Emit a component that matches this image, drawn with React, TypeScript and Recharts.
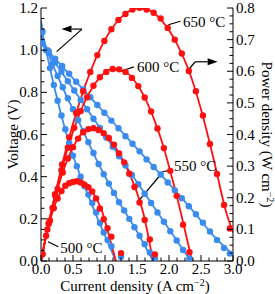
import React from 'react';
import { ComposedChart, Line, Scatter, XAxis, YAxis, ReferenceLine, ReferenceDot } from 'recharts';

// ---- measured points (current density j, voltage V, power density P) ----
const j500 = [0.02, 0.08, 0.14, 0.2, 0.26, 0.32, 0.38, 0.44, 0.5, 0.56, 0.62, 0.68, 0.74, 0.8, 0.86, 0.92, 0.98, 1.04, 1.1, 1.25];
const v500 = [1.09, 1.0, 0.915, 0.835, 0.76, 0.69, 0.625, 0.56, 0.5, 0.45, 0.4, 0.355, 0.315, 0.275, 0.23, 0.18, 0.135, 0.1, 0.07, 0.02];
const p500 = [0.022, 0.08, 0.128, 0.167, 0.198, 0.221, 0.238, 0.246, 0.25, 0.252, 0.248, 0.241, 0.233, 0.22, 0.198, 0.166, 0.132, 0.104, 0.077, 0.025];

const j550 = [0.02, 0.1, 0.18, 0.26, 0.34, 0.42, 0.5, 0.58, 0.66, 0.74, 0.82, 0.9, 0.98, 1.06, 1.14, 1.22, 1.3, 1.38, 1.46, 1.54, 1.62, 1.7, 1.78];
const v550 = [1.085, 1.0, 0.935, 0.878, 0.824, 0.772, 0.72, 0.668, 0.616, 0.564, 0.512, 0.46, 0.412, 0.367, 0.323, 0.279, 0.24, 0.2, 0.16, 0.12, 0.08, 0.04, 0.012];
const p550 = [0.022, 0.1, 0.168, 0.228, 0.28, 0.324, 0.36, 0.387, 0.407, 0.417, 0.42, 0.414, 0.404, 0.389, 0.368, 0.34, 0.312, 0.276, 0.234, 0.185, 0.13, 0.068, 0.021];

const j600 = [0.02, 0.12, 0.22, 0.32, 0.42, 0.52, 0.62, 0.72, 0.82, 0.92, 1.02, 1.12, 1.22, 1.32, 1.42, 1.52, 1.62, 1.72, 1.82, 1.92, 2.02, 2.12, 2.22, 2.32];
const v600 = [1.035, 0.987, 0.942, 0.898, 0.853, 0.809, 0.764, 0.72, 0.675, 0.631, 0.586, 0.542, 0.497, 0.453, 0.408, 0.364, 0.319, 0.275, 0.23, 0.186, 0.141, 0.097, 0.052, 0.012];
const p600 = [0.021, 0.118, 0.207, 0.287, 0.358, 0.421, 0.474, 0.518, 0.554, 0.581, 0.598, 0.607, 0.606, 0.598, 0.579, 0.553, 0.517, 0.473, 0.419, 0.357, 0.285, 0.206, 0.115, 0.028];

const j650 = [0.02, 0.12, 0.22, 0.33, 0.44, 0.55, 0.66, 0.77, 0.88, 0.99, 1.1, 1.21, 1.32, 1.43, 1.54, 1.65, 1.76, 1.87, 1.98, 2.09, 2.2, 2.31, 2.42, 2.53, 2.64, 2.75, 2.86, 2.95];
const v650 = [1.03, 0.995, 0.96, 0.925, 0.888, 0.85, 0.814, 0.777, 0.74, 0.703, 0.666, 0.63, 0.592, 0.556, 0.52, 0.482, 0.446, 0.41, 0.372, 0.335, 0.298, 0.26, 0.222, 0.182, 0.14, 0.1, 0.062, 0.035];
const p650 = [0.021, 0.119, 0.211, 0.305, 0.391, 0.468, 0.537, 0.598, 0.651, 0.696, 0.733, 0.762, 0.781, 0.795, 0.801, 0.795, 0.785, 0.767, 0.737, 0.7, 0.656, 0.601, 0.537, 0.46, 0.37, 0.275, 0.177, 0.103];

// ---- fitted curves ----
const fitV500J = [0, 0.02, 0.08, 0.2, 0.35, 0.5, 0.7, 0.9, 1.05, 1.17];
const fitV500 = [1.14, 1.09, 1.0, 0.835, 0.655, 0.5, 0.34, 0.19, 0.085, 0];
const fitV550J = [0, 0.02, 0.1, 0.3, 0.6, 0.9, 1.2, 1.5, 1.75];
const fitV550 = [1.14, 1.085, 1.0, 0.85, 0.655, 0.46, 0.29, 0.14, 0];
const fitV600J = [0, 0.02, 0.12, 0.5, 1.2, 2.34];
const fitV600 = [1.14, 1.035, 0.987, 0.818, 0.507, 0];
const fitV650J = [0, 0.02, 0.12, 0.8, 1.5, 2.4, 2.7, 3.0];
const fitV650 = [1.14, 1.03, 0.995, 0.767, 0.533, 0.228, 0.118, 0.03];

const fitP500J = [0, 0.1, 0.2, 0.35, 0.5, 0.65, 0.8, 0.95, 1.05, 1.17];
const fitP500 = [0, 0.098, 0.167, 0.229, 0.25, 0.25, 0.22, 0.16, 0.09, 0];
const fitP550J = [0, 0.1, 0.3, 0.5, 0.7, 0.85, 1.0, 1.2, 1.4, 1.6, 1.75];
const fitP550 = [0, 0.1, 0.255, 0.36, 0.413, 0.42, 0.4, 0.348, 0.268, 0.15, 0];
const fitP600J = [0, 0.1, 0.3, 0.5, 0.7, 0.9, 1.1, 1.3, 1.5, 1.7, 1.9, 2.1, 2.36];
const fitP600 = [0, 0.1, 0.272, 0.409, 0.51, 0.576, 0.606, 0.6, 0.559, 0.482, 0.37, 0.222, 0];
const fitP650J = [0, 0.1, 0.3, 0.5, 0.7, 0.9, 1.1, 1.3, 1.5, 1.7, 1.9, 2.1, 2.3, 2.5, 2.7, 2.9, 3.0];
const fitP650 = [0, 0.1, 0.28, 0.434, 0.56, 0.66, 0.733, 0.779, 0.799, 0.792, 0.757, 0.696, 0.608, 0.48, 0.32, 0.15, 0.09];

// ---- axis ticks ----
const xTicks = [0, 0.125, 0.25, 0.375, 0.5, 0.625, 0.75, 0.875, 1.0, 1.125, 1.25, 1.375, 1.5, 1.625, 1.75, 1.875, 2.0, 2.125, 2.25, 2.375, 2.5, 2.625, 2.75, 2.875, 3.0];
const leftTicks = [0, 0.05, 0.1, 0.15, 0.2, 0.25, 0.3, 0.35, 0.4, 0.45, 0.5, 0.55, 0.6, 0.65, 0.7, 0.75, 0.8, 0.85, 0.9, 0.95, 1.0, 1.05, 1.1, 1.15, 1.2];
const rightTicks = [0, 0.025, 0.05, 0.075, 0.1, 0.125, 0.15, 0.175, 0.2, 0.225, 0.25, 0.275, 0.3, 0.325, 0.35, 0.375, 0.4, 0.425, 0.45, 0.475, 0.5, 0.525, 0.55, 0.575, 0.6, 0.625, 0.65, 0.675, 0.7, 0.725, 0.75, 0.775, 0.8];

const temps = ['500 °C', '550 °C', '600 °C', '650 °C'];

const zip = (xs: number[], ys: number[], key: string) => xs.map((x, i) => ({ j: x, [key]: ys[i] }));

const measuredV = [zip(j500, v500, 'v'), zip(j550, v550, 'v'), zip(j600, v600, 'v'), zip(j650, v650, 'v')];
const measuredP = [zip(j500, p500, 'p'), zip(j550, p550, 'p'), zip(j600, p600, 'p'), zip(j650, p650, 'p')];
const fitsV = [zip(fitV500J, fitV500, 'v'), zip(fitV550J, fitV550, 'v'), zip(fitV600J, fitV600, 'v'), zip(fitV650J, fitV650, 'v')];
const fitsP = [zip(fitP500J, fitP500, 'p'), zip(fitP550J, fitP550, 'p'), zip(fitP600J, fitP600, 'p'), zip(fitP650J, fitP650, 'p')];

const BLUE = '#3a8bef';
const RED = '#ff1010';
const FONT = '"Liberation Serif", "Times New Roman", serif';
const FS = 15;

const isMajor = (v: number, step: number) => Math.abs(v / step - Math.round(v / step)) < 1e-6;

const BottomTick = (props: any) => {
  const { x, y, payload } = props;
  const major = isMajor(payload.value, 0.5);
  return (
    <g>
      <line x1={x} x2={x} y1={y} y2={y - (major ? 6 : 3.5)} stroke="#000" strokeWidth={1} />
      {major && (
        <text x={x} y={y + 13} textAnchor="middle" fontFamily={FONT} fontSize={FS} fill="#000">
          {payload.value.toFixed(1)}
        </text>
      )}
    </g>
  );
};

const TopTick = (props: any) => {
  const { x, y, payload } = props;
  const major = isMajor(payload.value, 0.5);
  return <line x1={x} x2={x} y1={y} y2={y + (major ? 6 : 3.5)} stroke="#000" strokeWidth={1} />;
};

const LeftTick = (props: any) => {
  const { x, y, payload } = props;
  const major = isMajor(payload.value, 0.2);
  return (
    <g>
      <line x1={x} x2={x + (major ? 6 : 3.5)} y1={y} y2={y} stroke="#000" strokeWidth={1} />
      {major && (
        <text x={x - 3} y={y + 5} textAnchor="end" fontFamily={FONT} fontSize={FS} fill="#000">
          {payload.value.toFixed(1)}
        </text>
      )}
    </g>
  );
};

const RightTick = (props: any) => {
  const { x, y, payload } = props;
  const major = isMajor(payload.value, 0.1);
  return (
    <g>
      <line x1={x} x2={x - (major ? 6 : 3.5)} y1={y} y2={y} stroke="#000" strokeWidth={1} />
      {major && (
        <text x={x + 3} y={y + 5} textAnchor="start" fontFamily={FONT} fontSize={FS} fill="#000">
          {payload.value.toFixed(1)}
        </text>
      )}
    </g>
  );
};

const Sup = ({ children }: any) => (
  <>
    <tspan dy={-5} fontSize={10}>{children}</tspan>
    <tspan dy={5}>)</tspan>
  </>
);

const XTitle = (props: any) => {
  const vb = props.viewBox || { x: 41, y: 261, width: 192, height: 33 };
  return (
    <text x={vb.x + vb.width / 2 - 2} y={vb.y + 30} textAnchor="middle" fontFamily={FONT} fontSize={FS} fill="#000">
      Current density (A cm<Sup>−2</Sup>
    </text>
  );
};

const LeftTitle = (props: any) => {
  const vb = props.viewBox || { x: 0, y: 8, width: 41, height: 253 };
  const cx = vb.x + 18;
  const cy = vb.y + vb.height / 2;
  return (
    <text x={cx} y={cy} transform={`rotate(-90 ${cx} ${cy})`} textAnchor="middle" fontFamily={FONT} fontSize={FS} fill="#000">
      Voltage (V)
    </text>
  );
};

const RightTitle = (props: any) => {
  const vb = props.viewBox || { x: 233, y: 8, width: 42, height: 253 };
  const cx = vb.x + 29;
  const cy = vb.y + vb.height / 2;
  return (
    <text x={cx} y={cy} transform={`rotate(90 ${cx} ${cy})`} textAnchor="middle" fontFamily={FONT} fontSize={FS} fill="#000">
      Power density (W cm<Sup>−2</Sup>
    </text>
  );
};

const Arrow = (props: any) => {
  const { x1, y1, x2, y2 } = props;
  const dx = x2 - x1;
  const dy = y2 - y1;
  const len = Math.sqrt(dx * dx + dy * dy) || 1;
  const ux = dx / len;
  const uy = dy / len;
  const hl = 10;
  const hw = 3.5;
  const bx = x2 - ux * hl;
  const by = y2 - uy * hl;
  return (
    <g>
      <line x1={x1} y1={y1} x2={bx} y2={by} stroke="#000" strokeWidth={1.2} />
      <polygon points={`${x2},${y2} ${bx - uy * hw},${by + ux * hw} ${bx + uy * hw},${by - ux * hw}`} fill="#000" />
    </g>
  );
};

const Plain = (props: any) => {
  const { x1, y1, x2, y2 } = props;
  return <line x1={x1} y1={y1} x2={x2} y2={y2} stroke="#000" strokeWidth={1.2} />;
};

const labelShape = (text: string) => (p: any) => (
  <text x={p.cx} y={p.cy} dy="0.35em" textAnchor="start" fontFamily={FONT} fontSize={FS} fill="#000">
    {text}
  </text>
);

const dotShape = (color: string) => (p: any) => <circle cx={p.cx} cy={p.cy} r={3.2} fill={color} />;

export default function App() {
  return (
    <div style={{ position: 'absolute', left: 0, top: 0, width: 275, height: 294, background: '#fff' }}>
      <ComposedChart width={275} height={294} margin={{ top: 8, right: 0, bottom: 0, left: 0 }}>
        <XAxis
          xAxisId="b"
          type="number"
          dataKey="j"
          domain={[0, 3]}
          ticks={xTicks}
          interval={0}
          allowDataOverflow
          height={33}
          tickSize={0}
          tickMargin={0}
          tickLine={false}
          axisLine={{ stroke: '#000', strokeWidth: 1 }}
          tick={BottomTick}
          label={XTitle}
        />
        <XAxis
          xAxisId="t"
          orientation="top"
          type="number"
          dataKey="j"
          domain={[0, 3]}
          ticks={xTicks}
          interval={0}
          allowDataOverflow
          height={0}
          tickSize={0}
          tickMargin={0}
          tickLine={false}
          axisLine={{ stroke: '#000', strokeWidth: 1 }}
          tick={TopTick}
        />
        <YAxis
          yAxisId="left"
          type="number"
          domain={[0, 1.2]}
          ticks={leftTicks}
          interval={0}
          allowDataOverflow
          width={41}
          tickSize={0}
          tickMargin={0}
          tickLine={false}
          axisLine={{ stroke: '#000', strokeWidth: 1 }}
          tick={LeftTick}
          label={LeftTitle}
        />
        <YAxis
          yAxisId="right"
          orientation="right"
          type="number"
          domain={[0, 0.8]}
          ticks={rightTicks}
          interval={0}
          allowDataOverflow
          width={42}
          tickSize={0}
          tickMargin={0}
          tickLine={false}
          axisLine={{ stroke: '#000', strokeWidth: 1 }}
          tick={RightTick}
          label={RightTitle}
        />

        {fitsV.map((d, i) => (
          <Line
            key={'fv' + i}
            name={temps[i] + ' V fit'}
            data={d}
            dataKey="v"
            xAxisId="b"
            yAxisId="left"
            type="monotone"
            stroke={BLUE}
            strokeWidth={1.8}
            dot={false}
            activeDot={false}
            isAnimationActive={false}
          />
        ))}
        {measuredV.map((d, i) => (
          <Scatter
            key={'mv' + i}
            name={temps[i] + ' V'}
            data={d}
            dataKey="v"
            xAxisId="b"
            yAxisId="left"
            fill={BLUE}
            shape={dotShape(BLUE)}
            isAnimationActive={false}
          />
        ))}
        {fitsP.map((d, i) => (
          <Line
            key={'fp' + i}
            name={temps[i] + ' P fit'}
            data={d}
            dataKey="p"
            xAxisId="b"
            yAxisId="right"
            type="monotone"
            stroke={RED}
            strokeWidth={1.8}
            dot={false}
            activeDot={false}
            isAnimationActive={false}
          />
        ))}
        {measuredP.map((d, i) => (
          <Scatter
            key={'mp' + i}
            name={temps[i] + ' P'}
            data={d}
            dataKey="p"
            xAxisId="b"
            yAxisId="right"
            fill={RED}
            shape={dotShape(RED)}
            isAnimationActive={false}
          />
        ))}

        {/* voltage -> left axis indicator */}
        <ReferenceLine xAxisId="b" yAxisId="left" segment={[{ x: 0.245, y: 0.993 }, { x: 0.64, y: 1.1 }]} shape={Plain} />
        <ReferenceLine xAxisId="b" yAxisId="left" segment={[{ x: 0.64, y: 1.1 }, { x: 0.32, y: 1.1 }]} shape={Arrow} />
        {/* power -> right axis indicator */}
        <ReferenceLine xAxisId="b" yAxisId="right" segment={[{ x: 2.3, y: 0.604 }, { x: 2.41, y: 0.63 }]} shape={Plain} />
        <ReferenceLine xAxisId="b" yAxisId="right" segment={[{ x: 2.41, y: 0.63 }, { x: 2.76, y: 0.63 }]} shape={Arrow} />

        {/* temperature labels */}
        <ReferenceLine xAxisId="b" yAxisId="right" segment={[{ x: 1.99, y: 0.747 }, { x: 2.18, y: 0.758 }]} shape={Plain} />
        <ReferenceDot xAxisId="b" yAxisId="right" x={2.22} y={0.756} r={0} shape={labelShape(temps[3])} />

        <ReferenceLine xAxisId="b" yAxisId="right" segment={[{ x: 1.25, y: 0.6 }, { x: 1.45, y: 0.614 }]} shape={Plain} />
        <ReferenceDot xAxisId="b" yAxisId="right" x={1.5} y={0.613} r={0} shape={labelShape(temps[2])} />

        <ReferenceLine xAxisId="b" yAxisId="right" segment={[{ x: 1.5, y: 0.184 }, { x: 1.91, y: 0.283 }]} shape={Plain} />
        <ReferenceLine xAxisId="b" yAxisId="right" segment={[{ x: 1.91, y: 0.283 }, { x: 2.0, y: 0.286 }]} shape={Plain} />
        <ReferenceDot xAxisId="b" yAxisId="right" x={2.08} y={0.3} r={0} shape={labelShape(temps[1])} />

        <ReferenceLine xAxisId="b" yAxisId="right" segment={[{ x: 0.11, y: 0.061 }, { x: 0.27, y: 0.045 }]} shape={Plain} />
        <ReferenceDot xAxisId="b" yAxisId="right" x={0.3} y={0.041} r={0} shape={labelShape(temps[0])} />
      </ComposedChart>
    </div>
  );
}
